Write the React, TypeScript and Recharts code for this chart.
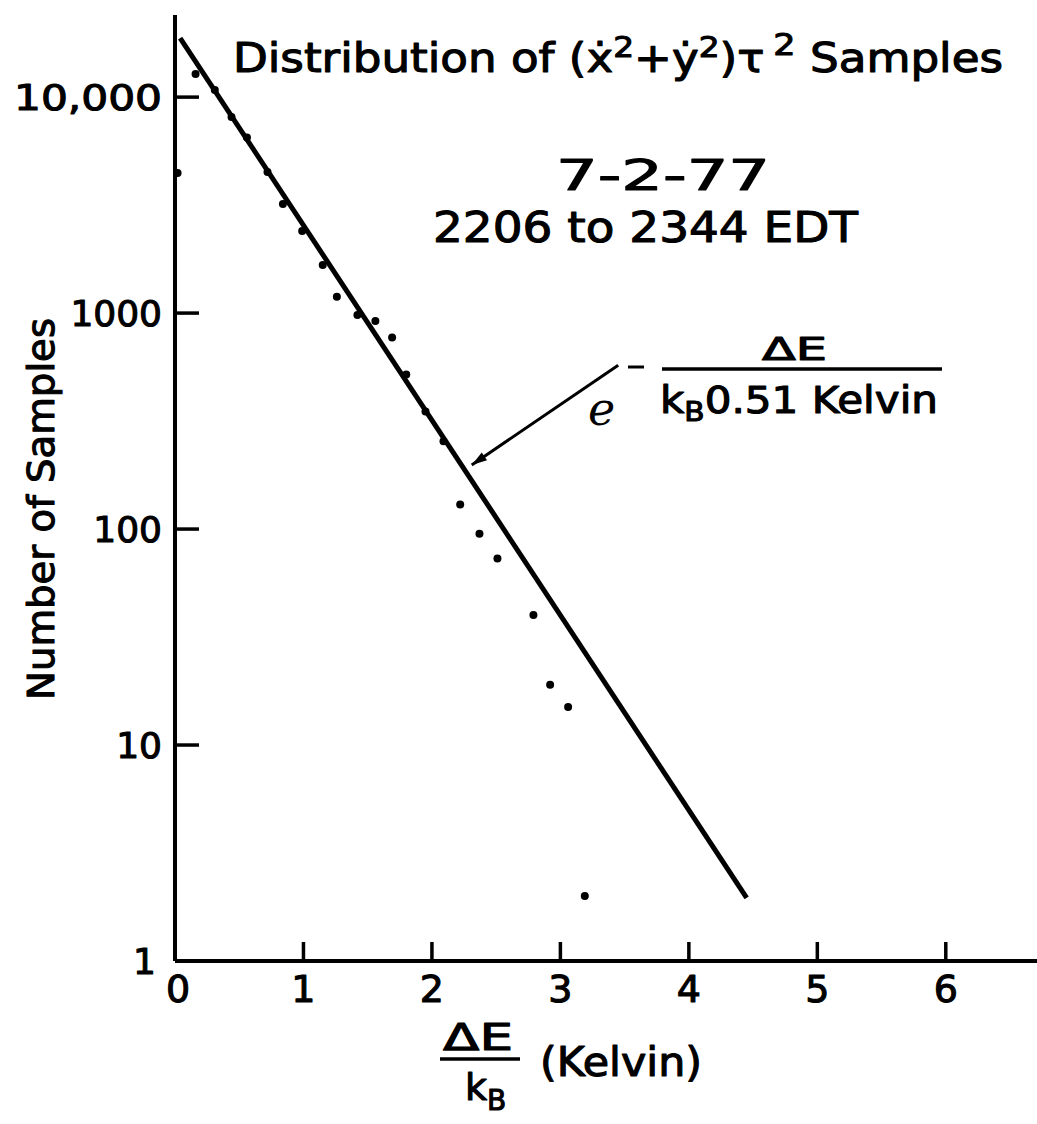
import { ComposedChart, Line, Scatter, XAxis, YAxis, ReferenceLine } from 'recharts'

// measured samples (ΔE/kB in Kelvin, count)
const sampleX = [0.02, 0.16, 0.31, 0.44, 0.56, 0.72, 0.84, 0.99, 1.15, 1.26, 1.42, 1.56, 1.69, 1.8, 1.95, 2.09, 2.22, 2.37, 2.51, 2.79, 2.92, 3.06, 3.19]
const sampleCount = [4450, 12800, 10800, 8100, 6500, 4500, 3200, 2400, 1670, 1190, 980, 920, 770, 520, 350, 255, 130, 95, 73, 40, 19, 15, 2]

// fitted exponential, e^(-ΔE / kB 0.51 K), drawn as a straight line on log axis
const fitX = [0.04, 4.45]
const fitCount = [18760, 1.96]

const xTicks = [0, 1, 2, 3, 4, 5, 6]
const yTicks = [1, 10, 100, 1000, 10000]
const yTickLabels = ['1', '10', '100', '1000', '10,000']

// arrow pointing at the fit line
const arrowFrom = { x: 3.45, y: 574 }
const arrowTo = { x: 2.31, y: 198 }

const samples = sampleX.map((x, i) => ({ x, y: sampleCount[i] }))
const fit = fitX.map((x, i) => ({ x, y: fitCount[i] }))

const FONT = "'DejaVu Sans', sans-serif"
// slight outline to get the inked lettering weight
const ink = { stroke: '#000', strokeWidth: 1.1, strokeLinejoin: 'round' as const }

function YTick(props: any) {
  const { x, y, payload } = props
  const idx = yTicks.indexOf(payload.value)
  const isTop = payload.value === 10000
  return (
    <g>
      {payload.value !== 1 && <line x1={x} x2={x + 24} y1={y} y2={y} stroke="#000" strokeWidth={3.5} />}
      <text
        x={payload.value === 1 ? x - 19 : x - 13}
        y={y}
        textAnchor="end"
        dominantBaseline="central"
        fontFamily={FONT}
        fontSize={36}
        fill="#000"
        {...ink}
        textLength={isTop ? 148 : undefined}
        lengthAdjust="spacingAndGlyphs"
      >
        {yTickLabels[idx]}
      </text>
    </g>
  )
}

function XTick(props: any) {
  const { x, y, payload } = props
  return (
    <g>
      {payload.value !== 0 && <line x1={x} x2={x} y1={y - 19} y2={y} stroke="#000" strokeWidth={3.5} />}
      <text
        x={x + (payload.value === 0 ? 3 : 0)}
        y={y + 28}
        textAnchor="middle"
        dominantBaseline="central"
        fontFamily={FONT}
        fontSize={38}
        fill="#000"
        {...ink}
      >
        {payload.value}
      </text>
    </g>
  )
}

function Arrow(props: any) {
  const { x1, y1, x2, y2 } = props
  const ang = Math.atan2(y2 - y1, x2 - x1)
  const len = 16
  const spread = 0.3
  const ax = x2 - len * Math.cos(ang - spread)
  const ay = y2 - len * Math.sin(ang - spread)
  const bx = x2 - len * Math.cos(ang + spread)
  const by = y2 - len * Math.sin(ang + spread)
  return (
    <g>
      <line x1={x1} y1={y1} x2={x2} y2={y2} stroke="#000" strokeWidth={3} />
      <path d={`M${x2},${y2} L${ax},${ay} L${bx},${by} Z`} fill="#000" />
    </g>
  )
}

function Dot(props: any) {
  const { cx, cy } = props
  return <circle cx={cx} cy={cy} r={4} fill="#000" />
}

export default function App() {
  return (
    <div style={{ position: 'absolute', left: 0, top: 0, width: 1037, height: 1124, background: '#fff' }}>
      <ComposedChart width={1037} height={1124} margin={{ top: 15, right: 0, bottom: 93, left: 0 }}>
        <XAxis
          dataKey="x"
          type="number"
          domain={[0, 6.71]}
          ticks={xTicks}
          allowDataOverflow
          height={70}
          tickSize={0}
          tickMargin={0}
          tick={<XTick />}
          axisLine={{ stroke: '#000', strokeWidth: 4 }}
          tickLine={false}
        />
        <YAxis
          dataKey="y"
          type="number"
          scale="log"
          domain={[1, 24000]}
          ticks={yTicks}
          allowDataOverflow
          width={175}
          tickSize={0}
          tickMargin={0}
          tick={<YTick />}
          axisLine={{ stroke: '#000', strokeWidth: 4 }}
          tickLine={false}
        />
        <Line
          data={fit}
          dataKey="y"
          type="linear"
          stroke="#000"
          strokeWidth={5}
          dot={false}
          activeDot={false}
          isAnimationActive={false}
        />
        <Scatter data={samples} dataKey="y" fill="#000" shape={<Dot />} isAnimationActive={false} />
        <ReferenceLine segment={[arrowFrom, arrowTo]} shape={<Arrow />} ifOverflow="visible" />
      </ComposedChart>

      <svg
        width={1037}
        height={1124}
        style={{ position: 'absolute', left: 0, top: 0, pointerEvents: 'none' }}
        fontFamily={FONT}
        fill="#000"
      >
        <g {...ink}>
          <text x={233} y={72} fontSize={40} textLength={770} lengthAdjust="spacingAndGlyphs">
            <tspan>Distribution of (ẋ</tspan>
            <tspan dy={-15} fontSize={29}>2</tspan>
            <tspan dy={15}>+ẏ</tspan>
            <tspan dy={-15} fontSize={29}>2</tspan>
            <tspan dy={15}>)τ</tspan>
            <tspan dy={-17} fontSize={31} dx={8}>2</tspan>
            <tspan dy={17}> Samples</tspan>
          </text>

          <text x={556} y={190} fontSize={43} textLength={214} lengthAdjust="spacingAndGlyphs">7-2-77</text>
          <text x={433} y={242} fontSize={43} textLength={425} lengthAdjust="spacingAndGlyphs">2206 to 2344 EDT</text>

          <text
            transform="translate(54,509) rotate(-90)"
            fontSize={38}
            textAnchor="middle"
            textLength={382}
            lengthAdjust="spacingAndGlyphs"
          >
            Number of Samples
          </text>

          {/* exponent annotation */}
          <text x={762} y={360} fontSize={32} textLength={65} lengthAdjust="spacingAndGlyphs">ΔE</text>
          <text x={660} y={413} fontSize={37} textLength={278} lengthAdjust="spacingAndGlyphs">
            <tspan>k</tspan>
            <tspan dy={8} fontSize={26}>B</tspan>
            <tspan dy={-8}>0.51 Kelvin</tspan>
          </text>

          {/* x axis label */}
          <text x={443} y={1050} fontSize={38} textLength={70} lengthAdjust="spacingAndGlyphs">ΔE</text>
          <text x={465} y={1100} fontSize={38}>
            <tspan>k</tspan>
            <tspan dy={10} fontSize={28}>B</tspan>
          </text>
          <text x={540} y={1076} fontSize={40} textLength={162} lengthAdjust="spacingAndGlyphs">(Kelvin)</text>
        </g>

        <text x={588} y={425} fontSize={46} fontStyle="italic" fontFamily="'DejaVu Serif', serif">e</text>
        <line x1={628} x2={644} y1={367} y2={367} stroke="#000" strokeWidth={3} />
        <line x1={662} x2={942} y1={369} y2={369} stroke="#000" strokeWidth={3.5} />
        <line x1={440} x2={520} y1={1059} y2={1059} stroke="#000" strokeWidth={3.5} />
      </svg>
    </div>
  )
}
